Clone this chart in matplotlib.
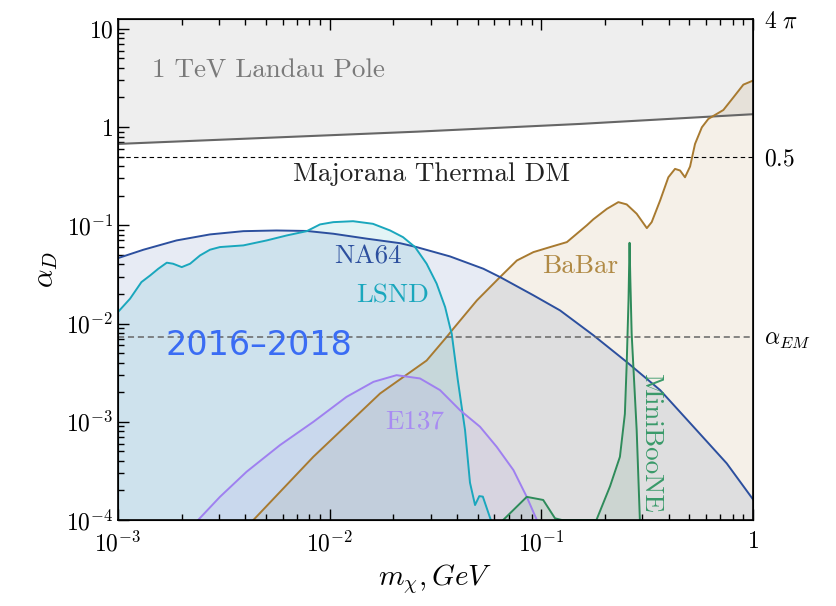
import numpy as np
import matplotlib
matplotlib.use("Agg")
import matplotlib.pyplot as plt

plt.rcParams['font.family'] = 'serif'
plt.rcParams['font.serif'] = ['cmr10']
plt.rcParams['mathtext.fontset'] = 'cm'
plt.rcParams['axes.formatter.use_mathtext'] = True

# --- data (GeV, alpha_D) ---
landau_x = [1e-3, 0.0259, 0.152, 1.0]
landau_y = [0.673, 0.897, 1.075, 1.35]

na64_x = [0.001, 0.00132, 0.00189, 0.00272, 0.00391, 0.0056, 0.0078, 0.0104, 0.015,
          0.0215, 0.0257, 0.037, 0.0532, 0.0638, 0.0916, 0.1225, 0.176, 0.253, 0.364,
          0.523, 0.751, 1.0]
na64_y = [0.0463, 0.0564, 0.0701, 0.0807, 0.0871, 0.0885, 0.0875, 0.082, 0.073,
          0.0657, 0.060, 0.0482, 0.0361, 0.0297, 0.0194, 0.0136, 0.0076, 0.00406, 2.1e-3,
          8.9e-4, 3.77e-4, 1.62e-4]

lsnd_x = [0.001, 0.00114, 0.00129, 0.00142, 0.00155, 0.0017, 0.00182, 0.0020, 0.00219,
          0.00244, 0.00272, 0.00303, 0.00391, 0.00504, 0.00627, 0.00779, 0.009, 0.0104,
          0.0129, 0.016, 0.0193, 0.0222, 0.0253, 0.0287, 0.0320, 0.0351, 0.037, 0.0377,
          0.0403, 0.0436, 0.046, 0.0486, 0.0509, 0.0529, 0.0577]
lsnd_y = [0.0131, 0.0179, 0.0264, 0.0309, 0.0361, 0.0416, 0.0406, 0.0375, 0.0406,
          0.0493, 0.0564, 0.060, 0.0624, 0.0701, 0.0788, 0.0871, 0.102, 0.1076,
          0.110, 0.1035, 0.0885, 0.0757, 0.060, 0.0406, 0.0255, 0.0147, 0.0092, 0.0079,
          0.00265, 8.2e-4, 2.4e-4, 1.42e-4, 1.75e-4, 1.73e-4, 1e-4]

babar_x = [0.00436, 0.00837, 0.0173, 0.0287, 0.0357, 0.0384, 0.0496, 0.0638, 0.0766,
           0.0917, 0.110, 0.132, 0.164, 0.176, 0.204, 0.231, 0.253, 0.282, 0.315, 0.332,
           0.364, 0.398, 0.428, 0.452, 0.477, 0.504, 0.532, 0.573, 0.615, 0.724, 0.807,
           0.90, 1.0]
babar_y = [1e-4, 4.4e-4, 1.94e-3, 4.2e-3, 7.3e-3, 8.87e-3, 0.0172, 0.0297, 0.0438,
           0.0533, 0.060, 0.0674, 0.1, 0.115, 0.147, 0.172, 0.163, 0.131, 0.0935, 0.1076,
           0.179, 0.308, 0.375, 0.361, 0.308, 0.396, 0.673, 0.993, 1.21, 1.49, 2.0,
           2.70, 2.97]

e137_x = [0.00239, 0.00303, 0.00405, 0.00582, 0.00837, 0.0120, 0.0161, 0.0207, 0.0267,
          0.0332, 0.0413, 0.0513, 0.0615, 0.0738, 0.0853, 0.0952]
e137_y = [1e-4, 1.72e-4, 3.1e-4, 5.78e-4, 9.98e-4, 1.79e-3, 2.55e-3, 2.98e-3, 2.76e-3,
          2.1e-3, 1.31e-3, 8.9e-4, 5.56e-4, 3.22e-4, 1.72e-4, 1e-4]

mini_x = [0.066, 0.0853, 0.102, 0.116, 0.125, 0.182, 0.211, 0.235, 0.248, 0.253, 0.258,
          0.261, 0.263, 0.267, 0.282, 0.292]
mini_y = [1e-4, 1.72e-4, 1.6e-4, 1.04e-4, 1e-4, 1e-4, 2.2e-4, 4.4e-4, 1.2e-3, 3.9e-3, 0.0172,
          0.0663, 0.03, 0.0079, 8.2e-4, 1e-4]

alpha_majorana = 0.5
alpha_em = 1 / 137.
ymin, ymax = 1e-4, 4 * np.pi

c_na64 = '#2c4f9e'
c_lsnd = '#1aa7bd'
c_babar = '#a87a30'
c_e137 = '#9f80f0'
c_mini = '#2e8b5a'
c_landau = '#666666'

fig = plt.figure(figsize=(8.37, 6.06), dpi=100)
ax = fig.add_axes([0.141, 0.1419, 0.7587, 0.8267])
ax.set_xscale('log')
ax.set_yscale('log')

# shaded regions
ax.fill_between(landau_x, landau_y, ymax, color=c_landau, alpha=0.105, lw=0)
ax.fill_between(babar_x, ymin, babar_y, color=c_babar, alpha=0.11, lw=0)
ax.fill_between(na64_x, ymin, na64_y, color=c_na64, alpha=0.11, lw=0)
ax.fill_between(lsnd_x, ymin, lsnd_y, color=c_lsnd, alpha=0.12, lw=0)
ax.fill_between(e137_x, ymin, e137_y, color=c_e137, alpha=0.1, lw=0)
ax.fill_between(mini_x, ymin, mini_y, color=c_mini, alpha=0.1, lw=0)

# curves
ax.plot(landau_x, landau_y, color=c_landau, lw=1.5)
ax.plot(babar_x, babar_y, color=c_babar, lw=1.4)
ax.plot(na64_x, na64_y, color=c_na64, lw=1.4)
ax.plot(lsnd_x, lsnd_y, color=c_lsnd, lw=1.4)
ax.plot(e137_x, e137_y, color=c_e137, lw=1.4)
ax.plot(mini_x, mini_y, color=c_mini, lw=1.4)

ax.axhline(alpha_majorana, color='k', lw=0.8, ls=(0, (4, 3)))
ax.axhline(alpha_em, color='#666666', lw=1.1, ls=(0, (4, 2.5)))

ax.set_xlim(1e-3, 1)
ax.set_ylim(ymin, ymax)

# labels inside
fs = 19.5
ax.text(0.00145, 3.74, '1 TeV Landau Pole', color='#7a7a7a', fontsize=fs, ha='left', va='center')
ax.text(0.0304, 0.328, 'Majorana Thermal DM', color='#222222', fontsize=fs, ha='center', va='center')
ax.text(0.0152, 0.048, 'NA64', color=c_na64, fontsize=fs, ha='center', va='center')
ax.text(0.0199, 0.0194, 'LSND', color=c_lsnd, fontsize=fs, ha='center', va='center')
ax.text(0.152, 0.038, 'BaBar', color='#b08a45', fontsize=fs, ha='center', va='center')
ax.text(0.0253, 1.01e-3, 'E137', color='#a88cf2', fontsize=fs, ha='center', va='center')
ax.text(0.328, 6.1e-4, 'MiniBooNE', color='#3a9a6a', fontsize=fs, ha='center', va='center',
        rotation=-90)
ax.text(0.00167, 0.006, '2016–2018', color='#3a6cf4', fontsize=24, ha='left', va='center',
        family='DejaVu Sans')

ax.set_xlabel(r'$m_\chi, GeV$', fontsize=21)
ax.set_ylabel(r'$\alpha_D$', fontsize=21)

ax.tick_params(which='both', direction='in', top=True, right=True, labelsize=17, width=1)
ax.tick_params(which='major', length=8)
ax.tick_params(which='minor', length=4)
ax.set_yticks([1e-4, 1e-3, 1e-2, 1e-1, 1, 10])
ax.set_yticklabels([r'$10^{-4}$', r'$10^{-3}$', r'$10^{-2}$', r'$10^{-1}$', r'$1$', r'$10$'])
ax.set_xticks([1e-3, 1e-2, 1e-1, 1])
ax.set_xticklabels([r'$10^{-3}$', r'$10^{-2}$', r'$10^{-1}$', r'$1$'])
ax.tick_params(axis='x', pad=8)
for s in ax.spines.values():
    s.set_linewidth(1.2)

# right-hand reference labels
ax2 = ax.twinx()
ax2.set_yscale('log')
ax2.set_ylim(ymin, ymax)
ax2.set_yticks([4 * np.pi, alpha_majorana, alpha_em])
ax2.set_yticklabels([r'$4\ \pi$', r'$0.5$', r'$\alpha_{EM}$'])
ax2.yaxis.set_minor_locator(matplotlib.ticker.NullLocator())
ax2.tick_params(which='both', length=0, labelsize=17, pad=8)

fig.savefig('out.png', dpi=100)
